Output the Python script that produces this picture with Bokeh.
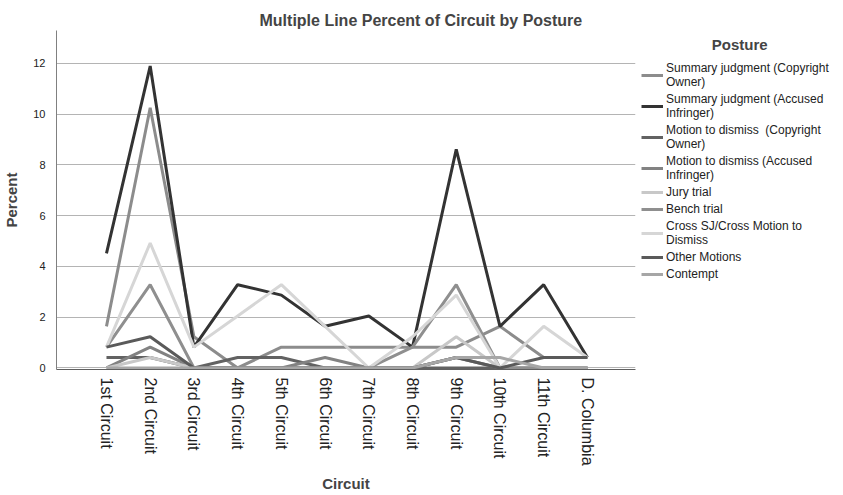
import numpy as np
from bokeh.plotting import figure
from bokeh.models import Legend, LegendItem, FixedTicker, Range1d
from bokeh.embed import file_html
from bokeh.resources import INLINE

circuits = ["1st Circuit", "2nd Circuit", "3rd Circuit", "4th Circuit", "5th Circuit",
            "6th Circuit", "7th Circuit", "8th Circuit", "9th Circuit", "10th Circuit",
            "11th Circuit", "D. Columbia"]

sj_copyright_owner = [1.64, 10.25, 1.23, 0.0, 0.82, 0.82, 0.82, 0.82, 0.82, 1.64, 0.41, 0.41]
sj_accused_infringer = [4.51, 11.89, 0.82, 3.28, 2.87, 1.64, 2.05, 0.82, 8.61, 1.64, 3.28, 0.41]
mtd_copyright_owner = [0.41, 0.41, 0.0, 0.41, 0.41, 0.0, 0.0, 0.0, 0.0, 0.0, 0.0, 0.0]
mtd_accused_infringer = [0.0, 0.82, 0.0, 0.0, 0.0, 0.41, 0.0, 0.0, 0.41, 0.0, 0.0, 0.0]
jury_trial = [0.0, 0.41, 0.0, 0.0, 0.0, 0.0, 0.0, 0.0, 1.23, 0.0, 0.0, 0.0]
bench_trial = [0.82, 3.28, 0.0, 0.0, 0.0, 0.0, 0.0, 0.82, 3.28, 0.0, 0.0, 0.0]
cross_sj = [0.82, 4.92, 0.82, 2.05, 3.28, 1.64, 0.0, 1.23, 2.87, 0.0, 1.64, 0.41]
other_motions = [0.82, 1.23, 0.0, 0.0, 0.0, 0.0, 0.0, 0.0, 0.41, 0.0, 0.41, 0.41]
contempt = [0.0, 0.0, 0.0, 0.0, 0.0, 0.0, 0.0, 0.0, 0.41, 0.41, 0.0, 0.0]

series_names = ["Summary judgment (Copyright\nOwner)",
                "Summary judgment (Accused\nInfringer)",
                "Motion to dismiss  (Copyright\nOwner)",
                "Motion to dismiss (Accused\nInfringer)",
                "Jury trial",
                "Bench trial",
                "Cross SJ/Cross Motion to\nDismiss",
                "Other Motions",
                "Contempt"]
series_values = [sj_copyright_owner, sj_accused_infringer, mtd_copyright_owner,
                 mtd_accused_infringer, jury_trial, bench_trial, cross_sj,
                 other_motions, contempt]
colors = ["#8c8c8c", "#333333", "#626262", "#828282", "#c8c8c8",
          "#8f8f8f", "#d6d6d6", "#5a5a5a", "#a6a6a6"]
y_ticks = [0, 2, 4, 6, 8, 10, 12]

FONT = "Liberation Sans"

p = figure(frame_width=579, frame_height=339, output_backend="svg", toolbar_location=None,
           x_range=Range1d(-1.143, 12.10), y_range=Range1d(-0.06, 13.29),
           min_border_left=47, min_border_right=0, min_border_top=30,
           min_border_bottom=0)
p.outline_line_color = None
p.background_fill_color = "white"

x = list(range(len(circuits)))
items = []
for name, vals, c in zip(series_names, series_values, colors):
    r = p.line(x, vals, line_color=c, line_width=3)
    items.append(LegendItem(label=name, renderers=[r]))

p.title.text = "Multiple Line Percent of Circuit by Posture"
p.title.align = "left"
p.title.text_font = FONT
p.title.text_font_size = "16px"
p.title.text_font_style = "bold"
p.title.offset = 203
p.title.standoff = 4

p.xgrid.visible = False
p.ygrid.grid_line_color = "#b4b4b4"
p.ygrid.grid_line_width = 1
p.ygrid.ticker = FixedTicker(ticks=y_ticks)

p.yaxis.ticker = FixedTicker(ticks=y_ticks)
p.yaxis.major_tick_line_color = None
p.yaxis.minor_tick_line_color = None
p.yaxis.axis_line_color = "#808080"
p.yaxis.major_label_text_font = FONT
p.yaxis.major_label_text_font_size = "11px"
p.yaxis.major_label_text_color = "#222222"
p.yaxis.major_label_standoff = 5
p.yaxis.axis_label = "Percent"
p.yaxis.axis_label_text_font = FONT
p.yaxis.axis_label_text_font_size = "15px"
p.yaxis.axis_label_text_font_style = "bold"
p.yaxis.axis_label_standoff = 10

p.xaxis.ticker = FixedTicker(ticks=x)
p.xaxis.major_label_overrides = {i: c for i, c in enumerate(circuits)}
p.xaxis.major_label_orientation = -np.pi / 2
p.xaxis.major_tick_line_color = None
p.xaxis.minor_tick_line_color = None
p.xaxis.axis_line_color = "#606060"
p.xaxis.major_label_text_font = FONT
p.xaxis.major_label_text_font_size = "16px"
p.xaxis.major_label_text_color = "#222222"
p.xaxis.major_label_standoff = 2
p.xaxis.axis_label = "Circuit"
p.xaxis.axis_label_text_font = FONT
p.xaxis.axis_label_text_font_size = "15px"
p.xaxis.axis_label_text_font_style = "bold"
p.xaxis.axis_label_standoff = 6

legend = Legend(items=items, location="top_left")
legend.title = "\u00a0" * 17 + "Posture"
legend.title_text_font = FONT
legend.title_text_font_size = "15px"
legend.title_text_font_style = "bold"
legend.title_standoff = 8
legend.label_text_font = FONT
legend.label_text_font_size = "12px"
legend.label_text_color = "#222222"
legend.border_line_color = None
legend.background_fill_alpha = 0
legend.glyph_width = 22
legend.glyph_height = 14
legend.label_height = 14
legend.spacing = 3
legend.padding = 0
legend.margin = 6
legend.label_standoff = 3
p.add_layout(legend, "right")

open("out.html", "w").write(file_html(p, INLINE))
